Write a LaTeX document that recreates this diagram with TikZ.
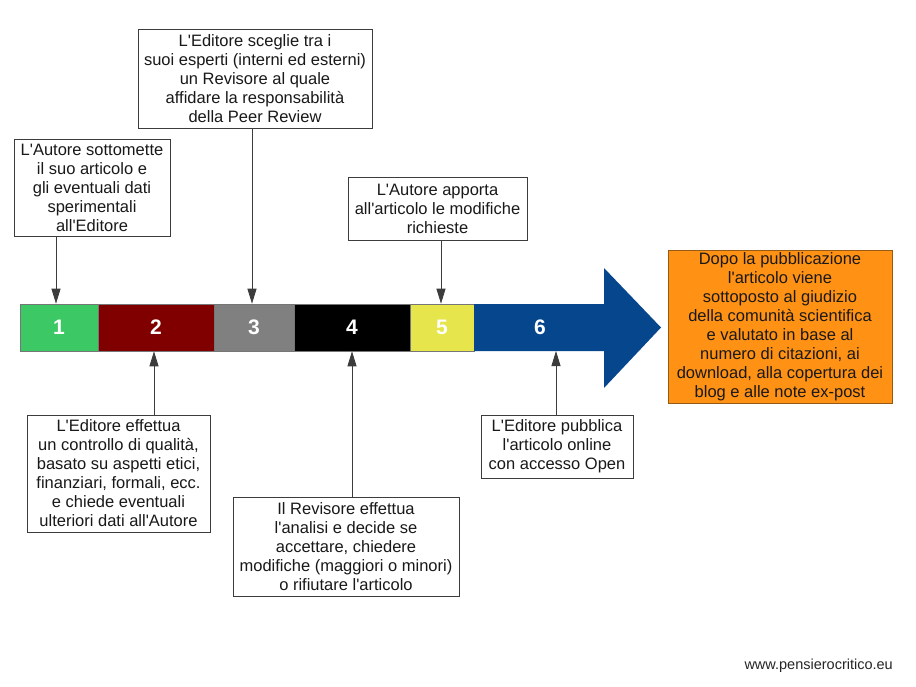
\documentclass[tikz,border=0pt]{standalone}
\usepackage{fontspec}
\setmainfont[Ligatures=TeXOff]{Liberation Sans}
\usetikzlibrary{arrows.meta}
\definecolor{cgreen}{RGB}{60,200,100}
\definecolor{cred}{RGB}{128,0,0}
\definecolor{cgray}{RGB}{128,128,128}
\definecolor{cyellow}{RGB}{230,230,76}
\definecolor{cblue}{RGB}{5,70,140}
\definecolor{corange}{RGB}{255,145,20}
\definecolor{cborder}{RGB}{60,60,60}
\definecolor{cobord}{RGB}{150,90,20}
\begin{document}
\begin{tikzpicture}[x=1pt,y=-1pt,
  txtbox/.style={draw=cborder,line width=0.9pt,fill=white,align=center,inner sep=0pt,
    font=\fontsize{16.5}{19}\selectfont,text=black!90},
  seg/.style={draw=cborder!70,line width=0.6pt,inner sep=0pt,minimum height=47pt,
    text=white,font=\fontsize{21}{24}\selectfont\bfseries},
  arr/.style={draw=cborder,line width=0.9pt,-{Triangle[length=15pt,width=9pt]}}]
\useasboundingbox (0,0) rectangle (916,687);
\fill[white] (0,0) rectangle (916,687);
% bar segments
\node[seg,fill=cgreen,minimum width=78pt] (s1) at (59,327.5) {1};
\node[seg,fill=cred,minimum width=116pt] (s2) at (156,327.5) {2};
\node[seg,fill=cgray,minimum width=80pt] (s3) at (254,327.5) {3};
\node[seg,fill=black,minimum width=116pt] (s4) at (352,327.5) {4};
\node[seg,fill=cyellow,minimum width=64pt] (s5) at (442,327.5) {5};
% big arrow 6
\fill[cblue] (474,304) -- (604,304) -- (604,268) -- (661,327.5) -- (604,388) -- (604,351) -- (474,351) -- cycle;
\node[text=white,font=\fontsize{21}{24}\selectfont\bfseries] (s6) at (540,327.5) {6};
\coordinate (s6top) at (540,304);
\coordinate (s6bot) at (540,351);
% top boxes
\node[txtbox,minimum width=156pt,minimum height=97pt] (A) at (92,187.5)
  {L'Autore sottomette\\il suo articolo e\\gli eventuali dati\\sperimentali\\all'Editore};
\node[txtbox,minimum width=234pt,minimum height=99pt] (B) at (255,78.5)
  {L'Editore sceglie tra i\\suoi esperti (interni ed esterni)\\un Revisore al quale\\affidare la responsabilità\\della Peer Review};
\node[txtbox,minimum width=179pt,minimum height=63pt] (C) at (437.5,208.5)
  {L'Autore apporta\\all'articolo le modifiche\\richieste};
% bottom boxes
\node[txtbox,minimum width=183pt,minimum height=117pt] (D) at (118.5,473.5)
  {L'Editore effettua\\un controllo di qualità,\\basato su aspetti etici,\\finanziari, formali, ecc.\\e chiede eventuali\\ulteriori dati all'Autore};
\node[txtbox,minimum width=226pt,minimum height=99pt] (E) at (346,546.5)
  {Il Revisore effettua\\l'analisi e decide se\\accettare, chiedere\\modifiche (maggiori o minori)\\o rifiutare l'articolo};
\node[txtbox,minimum width=152pt,minimum height=63pt] (F) at (557,446.5)
  {L'Editore pubblica\\l'articolo online\\con accesso Open};
% orange box
\node[txtbox,draw=cobord,fill=corange,minimum width=224pt,minimum height=153pt] (G) at (780,326.5)
  {Dopo la pubblicazione\\l'articolo viene\\sottoposto al giudizio\\della comunità scientifica\\e valutato in base al\\numero di citazioni, ai\\download, alla copertura dei\\blog e alle note ex-post};
% connector x positions
\coordinate (xa) at (56,0);
\coordinate (xb) at (252,0);
\coordinate (xc) at (441,0);
\coordinate (xd) at (154,0);
\coordinate (xe) at (352,0);
\coordinate (xf) at (556,0);
\draw[arr] (A.south -| xa) -- (s1.north -| xa);
\draw[arr] (B.south -| xb) -- (s3.north -| xb);
\draw[arr] (C.south -| xc) -- (s5.north -| xc);
\draw[arr] (D.north -| xd) -- (s2.south -| xd);
\draw[arr] (E.north -| xe) -- (s4.south -| xe);
\draw[arr] (F.north -| xf) -- (s6bot -| xf);
% footer
\node[anchor=east,font=\fontsize{14.5}{16}\selectfont,text=black!85,inner sep=0pt] (url) at (893,666) {www.pensierocritico.eu};
\end{tikzpicture}
\end{document}
